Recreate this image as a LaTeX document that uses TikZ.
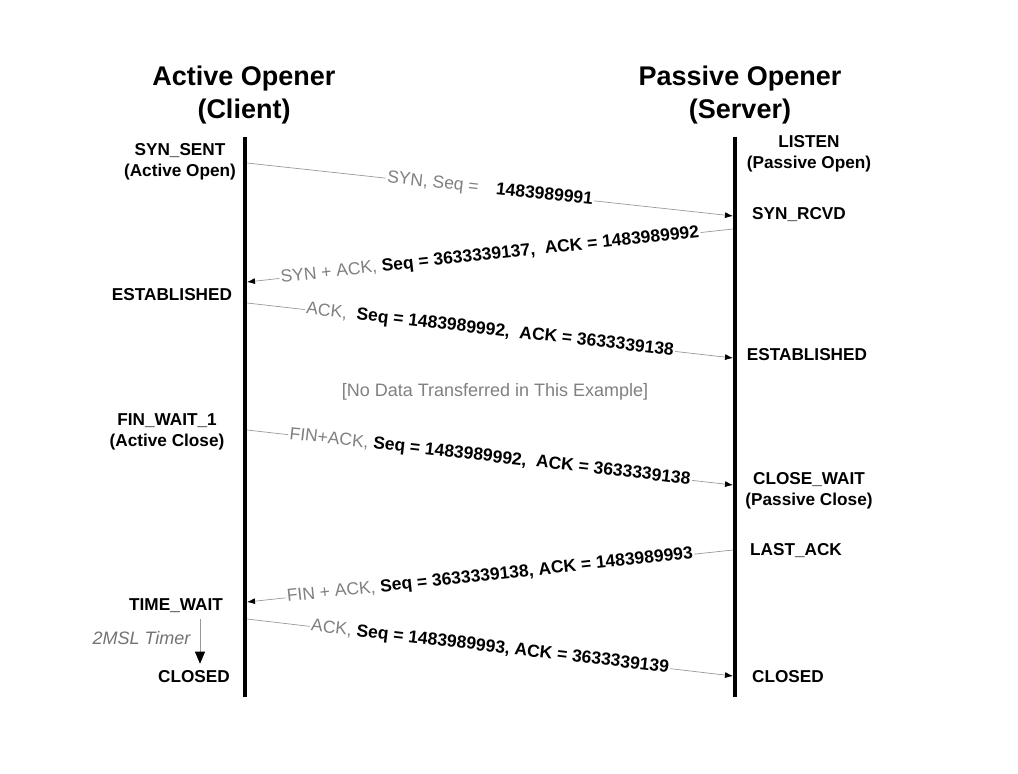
\documentclass[tikz,border=0pt]{standalone}
\usepackage{fontspec}
\setmainfont{Liberation Sans}
\usetikzlibrary{arrows.meta,calc}
\def\xclient{245}
\def\xserver{735}
\def\ytop{137}
\def\ybot{697}
\newcommand{\msggray}[1]{\textcolor{black!50}{#1}}

\begin{document}
\begin{tikzpicture}[x=1pt, y=-1pt,
  lifeline/.style={line width=4pt},
  msg/.style={draw=black!40, line width=0.7pt, -{Latex[black,length=8pt,width=6pt]}},
  msglabel/.style={midway, sloped, fill=white, inner sep=1.5pt, font=\fontsize{17.5}{20}\selectfont},
  state/.style={font=\bfseries\fontsize{17.2}{21.5}\selectfont, align=center, inner sep=0pt},
  title/.style={font=\bfseries\fontsize{27}{33}\selectfont, align=center, inner sep=0pt}]
\useasboundingbox (0,0) rectangle (1018,774);

% titles
\node[title] (client) at (244,95) {Active Opener\\(Client)};
\node[title] (server) at (740,95) {Passive Opener\\(Server)};

% lifelines
\draw[lifeline] (\xclient,\ytop) -- (\xclient,\ybot);
\draw[lifeline] (\xserver,\ytop) -- (\xserver,\ybot);

% points on the lifelines
\coordinate (c1) at (\xclient+2,163);
\coordinate (s1) at (\xserver-2,216);
\coordinate (s2) at (\xserver-2,229);
\coordinate (c2) at (\xclient+2,282);
\coordinate (c3) at (\xclient+2,303);
\coordinate (s3) at (\xserver-2,358);
\coordinate (c4) at (\xclient+2,430);
\coordinate (s4) at (\xserver-2,485);
\coordinate (s5) at (\xserver-2,550);
\coordinate (c5) at (\xclient+2,602);
\coordinate (c6) at (\xclient+2,619);
\coordinate (s6) at (\xserver-2,676);

% client states
\node[state] (synsent) at (180,162) {SYN\_SENT\\(Active Open)};
\node[state] (estc) at (172,295) {ESTABLISHED};
\node[state] (finwait) at (167,432) {FIN\_WAIT\_1\\(Active Close)};
\node[state] (timewait) at (176,606) {TIME\_WAIT};
\node[state] (closedc) at (194,677) {CLOSED};

% server states
\node[state] (listen) at (809,154) {LISTEN\\(Passive Open)};
\node[state] (synrcvd) at (799,215) {SYN\_RCVD};
\node[state] (ests) at (807,355) {ESTABLISHED};
\node[state] (closewait) at (809,491) {CLOSE\_WAIT\\(Passive Close)};
\node[state] (lastack) at (796,551) {LAST\_ACK};
\node[state] (closeds) at (788,677) {CLOSED};

\node[font=\fontsize{18}{20}\selectfont, text=black!50] (nodata) at (495,392) {[No Data Transferred in This Example]};

% messages
\draw[msg] (c1) -- (s1) node[msglabel] {\msggray{SYN, Seq =}\quad\textbf{1483989991}};
\draw[msg] (s2) -- (c2) node[msglabel] {\msggray{SYN + ACK,} \textbf{Seq = 3633339137,\ \ ACK = 1483989992}};
\draw[msg] (c3) -- (s3) node[msglabel] {\msggray{ACK,}\ \ \textbf{Seq = 1483989992,\ \ ACK = 3633339138}};
\draw[msg] (c4) -- (s4) node[msglabel] {\msggray{FIN+ACK,} \textbf{Seq = 1483989992,\ \ ACK = 3633339138}};
\draw[msg] (s5) -- (c5) node[msglabel] {\msggray{FIN + ACK,} \textbf{Seq = 3633339138, ACK = 1483989993}};
\draw[msg] (c6) -- (s6) node[msglabel] {\msggray{ACK,} \textbf{Seq = 1483989993, ACK = 3633339139}};

% timer
\coordinate (tm) at (200,0);
\draw[draw=black!40, line width=0.7pt, -{Triangle[black,length=12pt,width=10pt]}] ($(timewait.south -| tm)+(0,6)$) -- ($(closedc.north -| tm)+(0,-7)$);
\node[font=\itshape\fontsize{18}{20}\selectfont, text=black!55, anchor=east] (timer) at (194,638) {2MSL Timer};
\end{tikzpicture}
\end{document}
